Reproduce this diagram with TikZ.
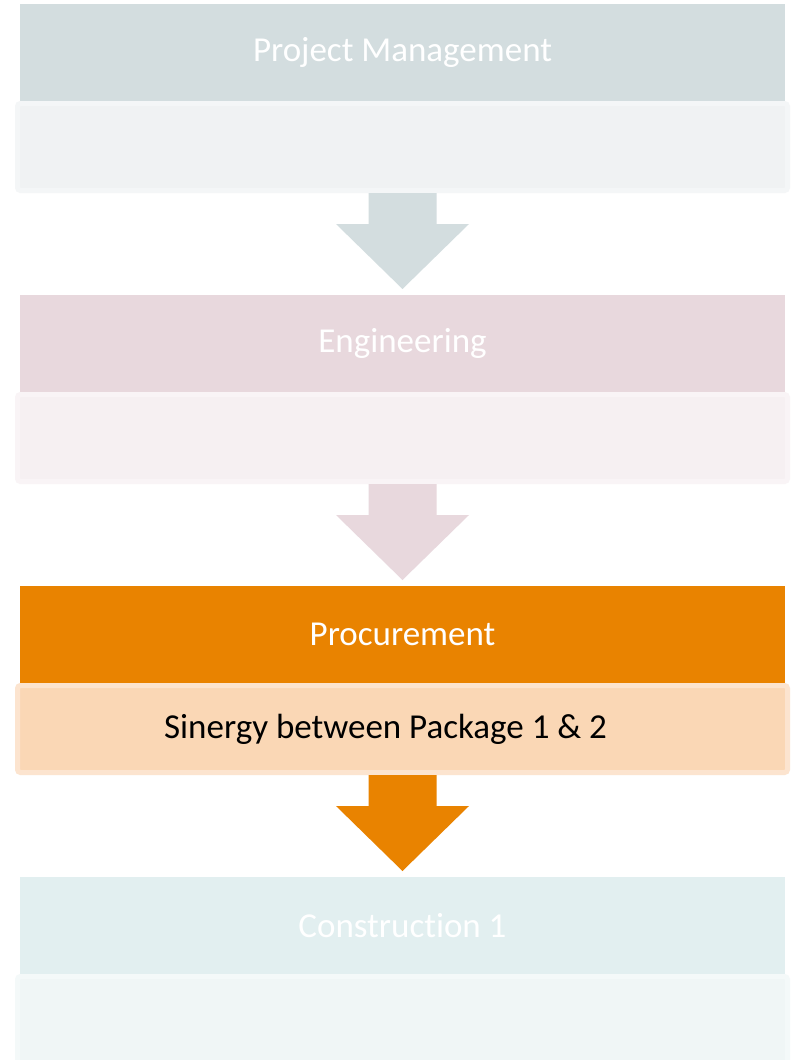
\documentclass[tikz,border=0pt]{standalone}
\usepackage{fontspec}
\setmainfont{Carlito}[Ligatures=NoCommon]
\usetikzlibrary{positioning}
\definecolor{hdA}{RGB}{211,221,223}
\definecolor{bdA}{RGB}{240,242,243}
\definecolor{hdB}{RGB}{232,216,221}
\definecolor{bdB}{RGB}{246,240,242}
\definecolor{hdC}{RGB}{233,131,0}
\definecolor{bdC}{RGB}{250,215,181}
\definecolor{lnC}{RGB}{252,228,207}
\definecolor{hdD}{RGB}{226,239,240}
\definecolor{bdD}{RGB}{240,246,246}
\tikzset{
  head/.style={minimum width=765pt,minimum height=97pt,inner sep=0pt,outer sep=0pt,
    text=white,font=\fontsize{35}{40}\selectfont},
  body/.style={minimum width=770pt,minimum height=87pt,line width=5pt,
    rounded corners=3pt,inner sep=0pt}
}
\begin{document}
\begin{tikzpicture}[x=1pt,y=-1pt]
\useasboundingbox[fill=white](0,0)rectangle(792,1060);
\node[head,fill=hdA,anchor=north](pm)at(402.5,4){Project Management};
\node[body,fill=bdA,draw=bdA!70!white,below=0pt of pm](pmb){};
\node[head,fill=hdB,below=102pt of pmb](eng){Engineering};
\node[body,fill=bdB,draw=bdB!70!white,below=0pt of eng](engb){};
\node[head,fill=hdC,below=102pt of engb](proc){Procurement};
\node[body,fill=bdC,draw=lnC,below=0pt of proc](procb){};
\node[font=\fontsize{35}{40}\selectfont](syn)at([xshift=-17pt]procb.center){Sinergy between Package 1 \& 2};
\node[head,fill=hdD,below=102pt of procb](con){Construction 1};
\node[body,fill=bdD,draw=bdD!70!white,below=0pt of con](conb){};
\foreach \a/\b/\c in {pmb/eng/hdA,engb/proc/hdB,procb/con/hdC}
\fill[\c]([xshift=-34pt]\a.south)--++(0,31)--++(-32.5,0)--([yshift=6pt]\b.north)
--++(66.5,-65)--++(-32.5,0)--([xshift=34pt]\a.south)--cycle;
\end{tikzpicture}
\end{document}
